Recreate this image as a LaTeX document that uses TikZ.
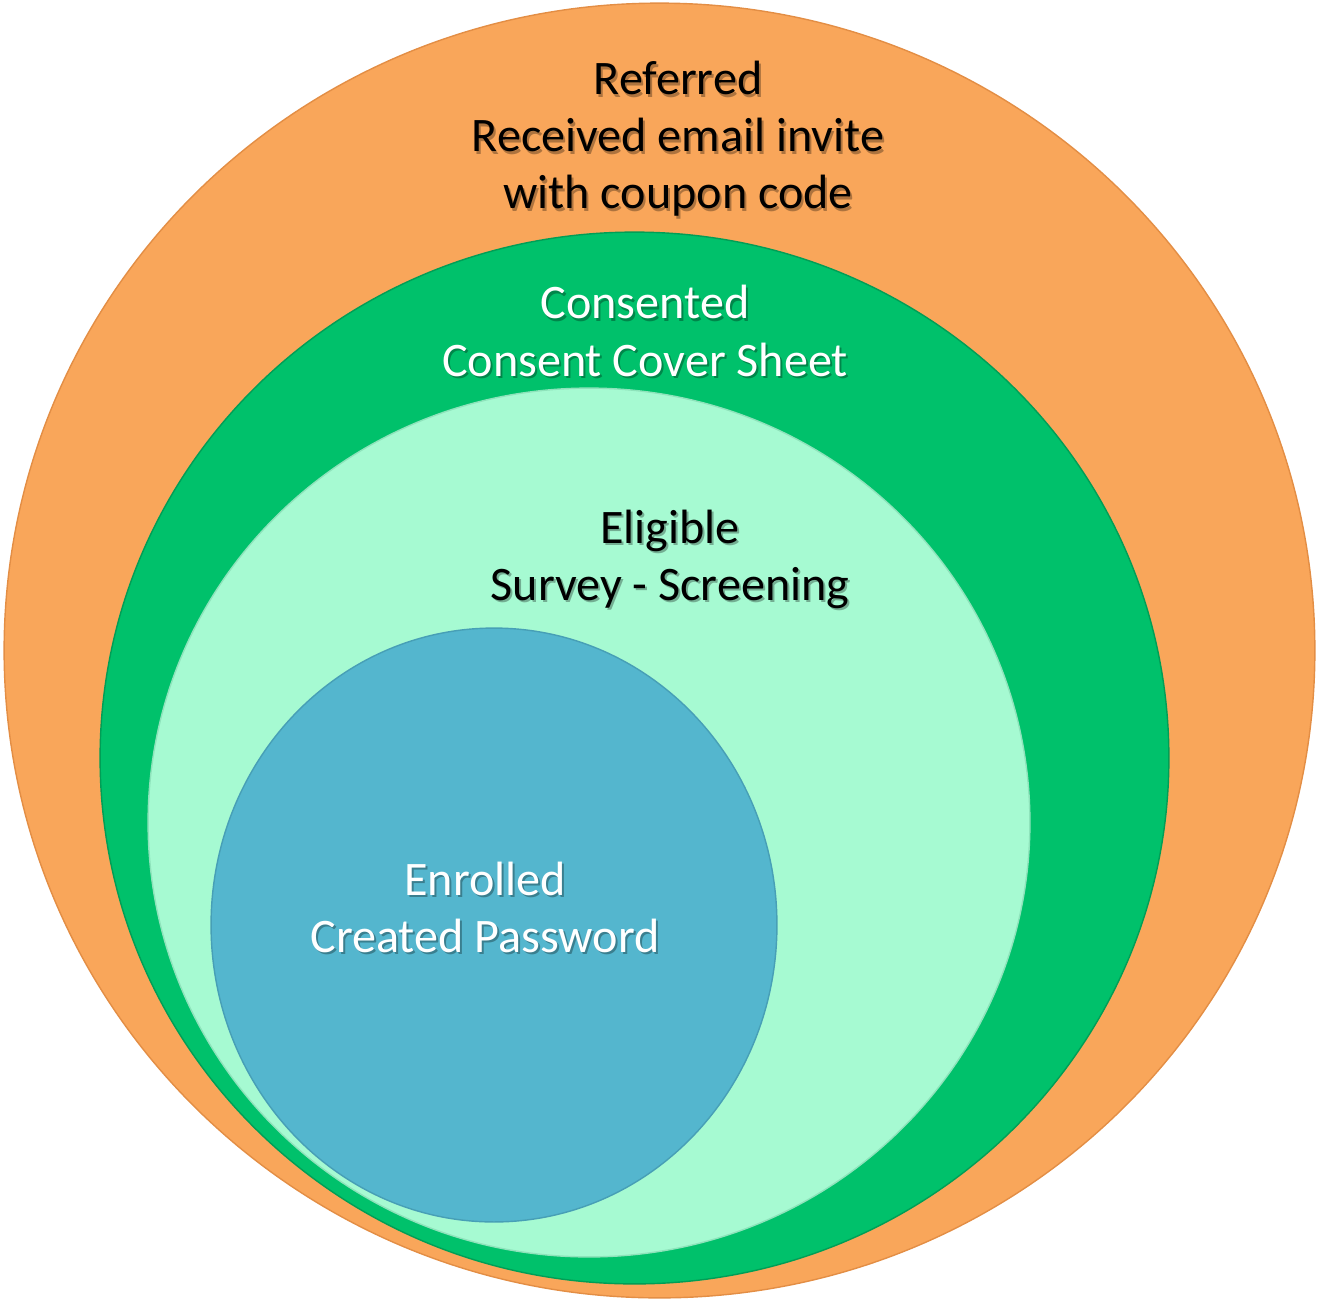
\documentclass[tikz,border=0pt]{standalone}
\usepackage{fontspec}
\setmainfont{Carlito}
\usetikzlibrary{shapes.geometric}

\definecolor{refFill}{HTML}{F9A65A}
\definecolor{refEdge}{HTML}{E38E45}
\definecolor{conFill}{HTML}{00C16B}
\definecolor{conEdge}{HTML}{009E56}
\definecolor{eliFill}{HTML}{A6FAD2}
\definecolor{eliEdge}{HTML}{8EE3BB}
\definecolor{enrFill}{HTML}{54B6CE}
\definecolor{enrEdge}{HTML}{479FB6}

\begin{document}
\begin{tikzpicture}[
        x=0.02cm, y=-0.02cm,
        ring/.style={ellipse, inner sep=0pt, line width=0.8pt},
        caption/.style={font=\fontsize{27.4}{32.5}\selectfont, align=center},
        drop/.style={caption, text=black, opacity=0.3},
    ]
        \useasboundingbox (0,0) rectangle (1319,1299);

        \coordinate (c_ref) at (659.5, 650.5);
        \coordinate (c_con) at (634.5, 758);
        \coordinate (c_eli) at (589, 822.5);
        \coordinate (c_enr) at (494, 925);

        % nested sets, outermost first
        \node[ring, fill=refFill, draw=refEdge, minimum width=26.22cm, minimum height=25.90cm] (referred) at (c_ref) {};
        \node[ring, fill=conFill, draw=conEdge, minimum width=21.38cm, minimum height=21.04cm] (consented) at (c_con) {};
        \node[ring, fill=eliFill, draw=eliEdge, minimum width=17.64cm, minimum height=17.38cm] (eligible) at (c_eli) {};
        \node[ring, fill=enrFill, draw=enrEdge, minimum width=11.32cm, minimum height=11.88cm] (enrolled) at (c_enr) {};

        % labels with a soft drop shadow
        \foreach \name/\x/\y/\col/\txt in {
            t_ref/678/139/black/{Referred\\Received email invite\\with coupon code},
            t_con/645/331/white/{Consented\\Consent Cover Sheet},
            t_eli/670/559/black/{Eligible\\Survey - Screening},
            t_enr/485/907/white/{Enrolled\\Created Password}} {
            \node[drop] at (\x+2, \y+2.5) {\txt};
            \node[caption, text=\col] (\name) at (\x, \y) {\txt};
        }
    \end{tikzpicture}
\end{document}
